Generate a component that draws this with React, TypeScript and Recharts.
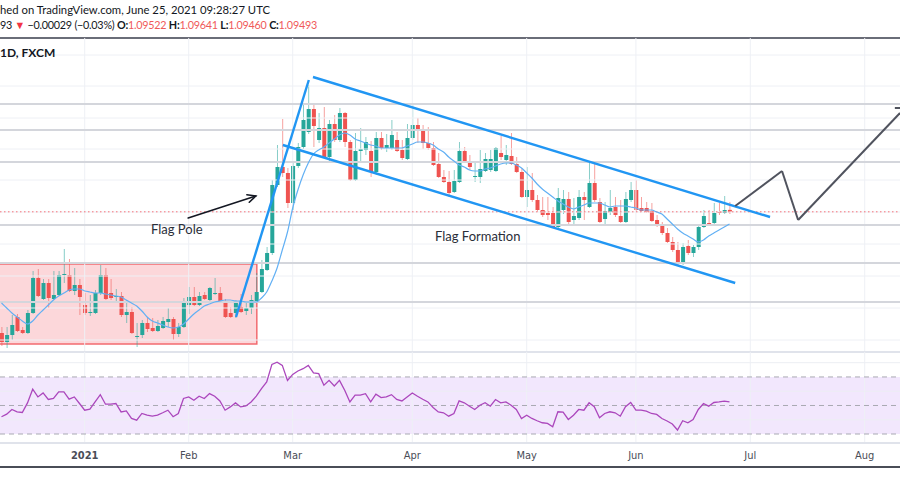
import React from 'react';
import {
  ComposedChart,
  LineChart,
  Bar,
  Line,
  XAxis,
  YAxis,
  ReferenceLine,
  ReferenceArea,
} from 'recharts';

// EUR/CHF daily, Dec 2020 - Jun 25 2021 (index = trading day)
const openP = [
  1.07675, 1.0754, 1.07645, 1.07915, 1.0772, 1.07675, 1.07975, 1.085, 1.08185, 1.08425,
  1.08185, 1.08245, 1.08545, 1.08545, 1.08305, 1.08395, 1.08095, 1.07975, 1.07975, 1.08275,
  1.08545, 1.08275, 1.08215, 1.0823, 1.07945, 1.0799, 1.07615, 1.07645, 1.07825, 1.0775,
  1.07705, 1.0775, 1.0784, 1.07885, 1.0766, 1.07765, 1.08095, 1.08215, 1.08095, 1.08245,
  1.0817, 1.0826, 1.08275, 1.08125, 1.07975, 1.07975, 1.08065, 1.08005, 1.0805, 1.08155,
  1.0829, 1.0862, 1.08875, 1.09895, 1.10165, 1.10075, 1.09625, 1.1018, 1.10465, 1.1069,
  1.11035, 1.1057, 1.1075, 1.10315, 1.1081, 1.1057, 1.10975, 1.1054, 1.0997, 1.10405,
  1.1042, 1.10405, 1.1009, 1.106, 1.1045, 1.1045, 1.1057, 1.1042, 1.10285, 1.106,
  1.10795, 1.10705, 1.10525, 1.1045, 1.1021, 1.10015, 1.0994, 1.0979, 1.0994, 1.10405,
  1.1024, 1.10015, 1.10015, 1.10105, 1.1012, 1.10105, 1.10375, 1.1027, 1.1033, 1.1021,
  1.1009, 1.09715, 1.0982, 1.0967, 1.0952, 1.09475, 1.09475, 1.09265, 1.0952, 1.09685,
  1.0937, 1.094, 1.09715, 1.09565, 1.09925, 1.0964, 1.09385, 1.0949, 1.09565, 1.0943,
  1.0934, 1.0967, 1.0982, 1.0955, 1.0955, 1.09505, 1.0937, 1.0931, 1.09175, 1.0904,
  1.0892, 1.08725, 1.0898, 1.08875, 1.08965, 1.09265, 1.09325, 1.09325, 1.0949, 1.09475,
  1.09522,
];
const highP = [
  1.07765, 1.07765, 1.07945, 1.0796, 1.07765, 1.0802, 1.08605, 1.08635, 1.08485, 1.08485,
  1.08605, 1.08605, 1.08935, 1.08785, 1.0865, 1.08485, 1.08275, 1.08245, 1.0832, 1.08695,
  1.0865, 1.08485, 1.08335, 1.0829, 1.0817, 1.08065, 1.07825, 1.0787, 1.079, 1.079,
  1.0787, 1.07915, 1.0805, 1.07915, 1.07825, 1.082, 1.08365, 1.08365, 1.0829, 1.0829,
  1.08365, 1.085, 1.08365, 1.08185, 1.08065, 1.0817, 1.0826, 1.08125, 1.08245, 1.08575,
  1.0877, 1.08965, 1.0997, 1.10495, 1.10885, 1.1015, 1.10225, 1.10525, 1.11095, 1.11395,
  1.11125, 1.10975, 1.11065, 1.1087, 1.10945, 1.1105, 1.1099, 1.1057, 1.10675, 1.1075,
  1.10615, 1.10555, 1.1069, 1.1069, 1.1066, 1.1087, 1.1069, 1.1057, 1.1081, 1.11095,
  1.109, 1.10795, 1.10765, 1.1054, 1.10375, 1.1012, 1.10105, 1.1012, 1.1054, 1.10465,
  1.10345, 1.10225, 1.1042, 1.10375, 1.1042, 1.10465, 1.1063, 1.10495, 1.10675, 1.10315,
  1.1015, 1.10165, 1.10075, 1.09745, 1.09715, 1.09715, 1.09565, 1.0985, 1.0982, 1.0979,
  1.097, 1.0982, 1.0979, 1.10225, 1.10225, 1.097, 1.0964, 1.0982, 1.09715, 1.0967,
  1.0979, 1.0994, 1.0997, 1.09715, 1.0964, 1.09625, 1.09445, 1.0934, 1.0925, 1.09115,
  1.0904, 1.09025, 1.0907, 1.08995, 1.09295, 1.0952, 1.0952, 1.09625, 1.09625, 1.0973,
  1.09641,
];
const lowP = [
  1.0748, 1.0745, 1.0757, 1.0769, 1.0766, 1.0766, 1.0796, 1.08215, 1.0817, 1.0805,
  1.0817, 1.0823, 1.08425, 1.0829, 1.08245, 1.07945, 1.07945, 1.0793, 1.0796, 1.08245,
  1.0817, 1.0817, 1.08125, 1.07915, 1.07825, 1.0766, 1.07465, 1.076, 1.0769, 1.0769,
  1.0769, 1.07735, 1.07765, 1.0757, 1.07615, 1.0775, 1.0796, 1.0808, 1.0808, 1.0817,
  1.0814, 1.08245, 1.08125, 1.079, 1.079, 1.079, 1.07975, 1.07945, 1.0796, 1.0814,
  1.08275, 1.08605, 1.08845, 1.09865, 1.10015, 1.0955, 1.0952, 1.1015, 1.10435, 1.1066,
  1.10465, 1.10525, 1.103, 1.1024, 1.1054, 1.1054, 1.10465, 1.09955, 1.09955, 1.1024,
  1.10345, 1.10015, 1.10045, 1.1042, 1.1039, 1.1042, 1.1039, 1.1027, 1.1027, 1.1057,
  1.10525, 1.10435, 1.1042, 1.1018, 1.1, 1.09925, 1.09715, 1.09775, 1.09925, 1.10225,
  1.1012, 1.0994, 1.09925, 1.1009, 1.1009, 1.1009, 1.1027, 1.10195, 1.10195, 1.10075,
  1.097, 1.09565, 1.0964, 1.0949, 1.09415, 1.0937, 1.0925, 1.0925, 1.0946, 1.0931,
  1.09295, 1.0937, 1.0937, 1.0955, 1.0964, 1.09325, 1.0931, 1.09445, 1.09415, 1.09325,
  1.09325, 1.0964, 1.0949, 1.0949, 1.09475, 1.0934, 1.09265, 1.09145, 1.09025, 1.0889,
  1.08695, 1.08695, 1.08845, 1.08815, 1.0892, 1.0925, 1.09295, 1.0931, 1.09445, 1.0946,
  1.0946,
];
const closeP = [
  1.0754, 1.07645, 1.07795, 1.07705, 1.07675, 1.07975, 1.085, 1.0823, 1.08425, 1.082,
  1.08245, 1.08545, 1.0856, 1.08305, 1.08395, 1.08215, 1.07975, 1.0799, 1.08275, 1.08545,
  1.08185, 1.082, 1.0823, 1.07945, 1.0799, 1.07675, 1.0763, 1.07825, 1.07735, 1.07705,
  1.0778, 1.07855, 1.07885, 1.0766, 1.07765, 1.08155, 1.08215, 1.08095, 1.0823, 1.08185,
  1.0835, 1.08275, 1.0814, 1.07915, 1.07915, 1.08125, 1.0799, 1.0805, 1.0817, 1.0829,
  1.08635, 1.08875, 1.09895, 1.10165, 1.10075, 1.09625, 1.1018, 1.10465, 1.1087, 1.11035,
  1.1078, 1.1075, 1.10315, 1.1081, 1.1057, 1.10975, 1.1054, 1.0997, 1.10405, 1.10435,
  1.1054, 1.1009, 1.106, 1.1045, 1.10495, 1.10645, 1.10405, 1.103, 1.106, 1.10795,
  1.10705, 1.10525, 1.1045, 1.10195, 1.10015, 1.0994, 1.09775, 1.09955, 1.10405, 1.1024,
  1.10165, 1.1003, 1.10135, 1.10285, 1.10285, 1.1045, 1.10315, 1.10345, 1.1021, 1.1009,
  1.09715, 1.0982, 1.0967, 1.0952, 1.09445, 1.09445, 1.09265, 1.097, 1.09685, 1.0934,
  1.0943, 1.09715, 1.0967, 1.09925, 1.0967, 1.0934, 1.09505, 1.0955, 1.09445, 1.0934,
  1.09685, 1.0982, 1.0952, 1.09505, 1.0949, 1.09355, 1.09295, 1.09175, 1.0904, 1.0892,
  1.08725, 1.08965, 1.08875, 1.08965, 1.09265, 1.0943, 1.0931, 1.09475, 1.09475, 1.0952,
  1.09493,
];
const smaP = [
  1.08125, 1.0805, 1.07975, 1.07915, 1.07855, 1.0781, 1.07855, 1.07945, 1.0802, 1.08095,
  1.0817, 1.0823, 1.08275, 1.0832, 1.08335, 1.08335, 1.08305, 1.0829, 1.08275, 1.08275,
  1.0826, 1.08245, 1.0823, 1.08215, 1.0817, 1.08125, 1.0808, 1.08005, 1.07915, 1.07855,
  1.07825, 1.07795, 1.07765, 1.0775, 1.07765, 1.0781, 1.07885, 1.0796, 1.0802, 1.0808,
  1.0811, 1.0814, 1.08155, 1.0817, 1.0817, 1.08155, 1.08155, 1.0814, 1.0814, 1.0814,
  1.082, 1.0829, 1.08455, 1.0865, 1.0892, 1.0919, 1.0955, 1.0982, 1.10045, 1.10225,
  1.1036, 1.1042, 1.10465, 1.10525, 1.10585, 1.10645, 1.10675, 1.10645, 1.10585, 1.10555,
  1.10525, 1.10495, 1.1048, 1.1045, 1.1045, 1.1045, 1.1045, 1.1045, 1.1048, 1.1051,
  1.1054, 1.1054, 1.10525, 1.10495, 1.10435, 1.1039, 1.10315, 1.10255, 1.10195, 1.10165,
  1.1012, 1.10105, 1.10105, 1.10135, 1.1015, 1.1018, 1.1021, 1.10225, 1.10225, 1.10195,
  1.1015, 1.10075, 1.1, 1.0991, 1.09835, 1.09775, 1.09715, 1.09655, 1.0961, 1.09565,
  1.09535, 1.09565, 1.09595, 1.09625, 1.09625, 1.09625, 1.09595, 1.09565, 1.0958, 1.0958,
  1.0958, 1.09565, 1.0955, 1.0952, 1.0952, 1.0952, 1.0949, 1.0946, 1.09385, 1.0931,
  1.09235, 1.09175, 1.0913, 1.09085, 1.0904, 1.0907, 1.0913, 1.09175, 1.0922, 1.09265,
  1.0931,
];
const rsiV = [
  42.1, 43.9, 47.2, 45.5, 45.1, 51.8, 61.4, 56.0, 58.8, 54.2,
  54.9, 59.5, 59.5, 54.4, 56.0, 51.4, 46.7, 47.4, 52.5, 57.6,
  50.9, 50.9, 51.4, 45.5, 46.2, 40.9, 39.7, 44.4, 43.2, 42.5,
  43.2, 44.9, 46.7, 42.1, 44.4, 54.9, 56.0, 53.7, 56.5, 54.9,
  58.3, 56.5, 53.2, 46.7, 49.0, 51.8, 49.0, 49.7, 52.5, 56.5,
  61.8, 66.5, 78.8, 80.4, 78.1, 67.6, 71.8, 74.2, 75.8, 78.1,
  72.8, 72.3, 64.2, 67.6, 63.7, 67.6, 60.7, 52.5, 57.2, 57.2,
  58.3, 52.5, 57.9, 55.5, 56.0, 57.6, 54.2, 53.2, 56.0, 58.8,
  56.5, 54.4, 52.5, 48.6, 45.5, 44.9, 42.5, 44.4, 53.2, 51.9,
  49.5, 47.2, 50.2, 51.9, 49.5, 54.2, 51.9, 52.5, 50.2, 47.2,
  40.9, 43.2, 40.9, 39.3, 37.9, 37.4, 35.1, 45.6, 45.3, 40.2,
  43.2, 47.2, 46.7, 51.9, 49.1, 41.4, 44.4, 45.6, 44.9, 42.5,
  49.1, 52.1, 46.7, 46.7, 46.0, 44.4, 43.7, 40.9, 39.1, 37.0,
  32.8, 39.3, 37.9, 40.2, 47.2, 51.4, 49.5, 52.1, 52.5, 53.0,
  52.5,
];

const tickIdx = [16, 36, 56, 79, 101, 122, 144, 166];
const tickLabels = ['2021', 'Feb', 'Mar', 'Apr', 'May', 'Jun', 'Jul', 'Aug'];

const gridPrices = [1.11845, 1.1138, 1.109, 1.10435, 1.0997, 1.0949, 1.0901, 1.0853, 1.0805, 1.0757];
const levelPrices = [1.1111, 1.1072, 1.1024, 1.09295, 1.08725, 1.0814];
const lastClose = 1.09493;
const rsiGrid = [40, 60, 80];
const rsiLevels = [70, 50, 30];

// drawings, as [bar index, price]
const poleLine = [[45.1, 1.07915], [59.1, 1.1147]];
const channelTop = [[59.9, 1.11515], [147.8, 1.09415]];
const channelBottom = [[54.1, 1.10495], [141.1, 1.08425]];
const arrowLine = [[35.9, 1.094], [48.9, 1.0973]];
const projection = [[141.1, 1.0958], [150.1, 1.10105], [153.2, 1.0937], [172.79, 1.10975]];
const projTick = [[171.8, 1.1105], [173, 1.1105]];
const baseBox = { from: -2, to: 49.1, low: 1.0751, high: 1.0871 };

const X_DOMAIN: [number, number] = [-0.2885, 172.79];

const rows = openP.map((o, i) => ({
  i,
  open: o,
  high: highP[i],
  low: lowP[i],
  close: closeP[i],
  ma: smaP[i],
}));
const rsiRows = rsiV.map((v, i) => ({ i, rsi: v }));

const UP = '#26a69a';
const DOWN = '#ef5350';

const Candle = (props: any) => {
  const { x, y, width, height, payload } = props;
  if (!payload || payload.open == null) return null;
  const { open, close, high, low } = payload;
  const color = close >= open ? UP : DOWN;
  const ratio = high === low ? 0 : height / (high - low);
  const cx = x + width / 2;
  const top = y + (high - Math.max(open, close)) * ratio;
  const h = Math.max(1, Math.abs(open - close) * ratio);
  return (
    <g>
      <line x1={cx} x2={cx} y1={y} y2={y + height} stroke={color} strokeOpacity={0.55} strokeWidth={1} />
      <rect x={x} y={top} width={width} height={h} fill={color} />
    </g>
  );
};

const ArrowShape = (p: any) => {
  const { x1, y1, x2, y2 } = p;
  const a = Math.atan2(y2 - y1, x2 - x1);
  const len = 9;
  const spread = 0.45;
  const ax = x2 - len * Math.cos(a - spread);
  const ay = y2 - len * Math.sin(a - spread);
  const bx = x2 - len * Math.cos(a + spread);
  const by = y2 - len * Math.sin(a + spread);
  return (
    <g stroke="#131722" strokeWidth={1.6} fill="none" strokeLinecap="round">
      <line x1={x1} y1={y1} x2={x2} y2={y2} />
      <polyline points={`${ax},${ay} ${x2},${y2} ${bx},${by}`} />
    </g>
  );
};

const MonthTick = (p: any) => {
  const { x, y, payload } = p;
  const label = tickLabels[tickIdx.indexOf(payload.value)];
  return (
    <text
      x={x}
      y={y}
      dy="0.71em"
      textAnchor="middle"
      fontSize={11}
      fill="#4a4d57"
      fontWeight={label === '2021' ? 700 : 400}
      fontFamily="'DejaVu Sans Condensed', 'DejaVu Sans', sans-serif"
    >
      {label}
    </text>
  );
};

const seg = (pts: number[][]) => pts.map(([x, y]) => ({ x, y }));

export default function App() {
  const red = '#f05a5a';
  return (
    <div
      style={{
        position: 'absolute',
        left: 0,
        top: 0,
        width: 900,
        height: 500,
        background: '#fff',
        overflow: 'hidden',
        fontFamily: 'Lato, sans-serif',
      }}
    >
      <div style={{ position: 'absolute', left: 0, top: 3, fontSize: 11.3, color: '#131722', whiteSpace: 'nowrap' }}>
        hed on TradingView.com, June 25, 2021 09:28:27 UTC
      </div>
      <div
        style={{
          position: 'absolute',
          left: 0,
          top: 18,
          fontSize: 10.8,
          letterSpacing: -0.25,
          color: '#131722',
          whiteSpace: 'nowrap',
        }}
      >
        93 <span style={{ color: '#f23645' }}>▼</span> −0.00029 (−0.03%) <b>O:</b>
        <span style={{ color: red }}>1.09522</span> <b>H:</b>
        <span style={{ color: red }}>1.09641</span> <b>L:</b>
        <span style={{ color: red }}>1.09460</span> <b>C:</b>
        <span style={{ color: red }}>1.09493</span>
      </div>
      <div style={{ position: 'absolute', left: 0, top: 37, width: 900, height: 2, background: '#6a6d78' }} />

      <div style={{ position: 'absolute', left: 0, top: 38 }}>
        <ComposedChart width={900} height={314} data={rows} margin={{ top: 0, right: 0, bottom: 0, left: 0 }}>
          <XAxis dataKey="i" type="number" domain={X_DOMAIN} allowDataOverflow hide />
          <YAxis type="number" domain={[1.0739, 1.121]} allowDataOverflow hide />
          {tickIdx.map((t) => (
            <ReferenceLine key={'v' + t} x={t} stroke="#eef0f5" strokeWidth={1} />
          ))}
          {gridPrices.map((p) => (
            <ReferenceLine key={'g' + p} y={p} stroke="#eef0f5" strokeWidth={1} />
          ))}
          {levelPrices.map((p) => (
            <ReferenceLine key={'l' + p} y={p} stroke="#d4d6dc" strokeWidth={2} />
          ))}
          <ReferenceArea
            x1={baseBox.from}
            x2={baseBox.to}
            y1={baseBox.low}
            y2={baseBox.high}
            fill="#f23645"
            fillOpacity={0.2}
            stroke="#f26b70"
            strokeWidth={1.5}
            ifOverflow="hidden"
          />
          <ReferenceLine y={lastClose} stroke="#f5737a" strokeDasharray="1.5 2.5" strokeWidth={1} />
          <Bar
            dataKey={(d: any) => [d.low, d.high]}
            barSize={4}
            shape={(p: any) => <Candle {...p} />}
            isAnimationActive={false}
          />
          <Line
            dataKey="ma"
            type="monotone"
            stroke="#62b0f4"
            strokeWidth={1.2}
            dot={false}
            isAnimationActive={false}
          />
          <ReferenceLine segment={seg(poleLine)} stroke="#2196f3" strokeWidth={2.4} ifOverflow="visible" />
          <ReferenceLine segment={seg(channelTop)} stroke="#2196f3" strokeWidth={2.4} ifOverflow="visible" />
          <ReferenceLine segment={seg(channelBottom)} stroke="#2196f3" strokeWidth={2.4} ifOverflow="visible" />
          <ReferenceLine segment={seg(arrowLine)} shape={(p: any) => <ArrowShape {...p} />} ifOverflow="visible" />
          {projection.slice(1).map((pt, k) => (
            <ReferenceLine
              key={'p' + k}
              segment={seg([projection[k], pt])}
              stroke="#50535e"
              strokeWidth={2}
              ifOverflow="visible"
            />
          ))}
          <ReferenceLine segment={seg(projTick)} stroke="#50535e" strokeWidth={2} ifOverflow="visible" />
        </ComposedChart>
      </div>

      <div style={{ position: 'absolute', left: 0, top: 45, fontSize: 12, fontWeight: 700, color: '#131722' }}>
        1D, FXCM
      </div>
      <div style={{ position: 'absolute', left: 151, top: 221, fontSize: 13, color: '#2a2e39' }}>Flag Pole</div>
      <div style={{ position: 'absolute', left: 435, top: 228, fontSize: 13, color: '#2a2e39' }}>Flag Formation</div>

      <div style={{ position: 'absolute', left: 0, top: 351, width: 900, height: 2, background: '#e0e3eb' }} />
      <div style={{ position: 'absolute', left: 0, top: 352 }}>
        <LineChart width={900} height={115} data={rsiRows} margin={{ top: 0, right: 0, bottom: 0, left: 0 }}>
          <XAxis
            dataKey="i"
            type="number"
            domain={X_DOMAIN}
            allowDataOverflow
            ticks={tickIdx}
            interval={0}
            tick={<MonthTick />}
            tickLine={false}
            axisLine={{ stroke: '#e0e3eb', strokeWidth: 2 }}
            height={24}
          />
          <YAxis type="number" domain={[23.7, 87.5]} allowDataOverflow hide />
          {tickIdx.map((t) => (
            <ReferenceLine key={'rv' + t} x={t} stroke="#eef0f5" strokeWidth={1} />
          ))}
          {rsiGrid.map((v) => (
            <ReferenceLine key={'rg' + v} y={v} stroke="#eceef3" strokeWidth={1} />
          ))}
          <ReferenceArea y1={30} y2={70} fill="#b97cf2" fillOpacity={0.18} stroke="none" ifOverflow="visible" />
          {rsiLevels.map((v) => (
            <ReferenceLine key={'rl' + v} y={v} stroke="#a9a9b3" strokeDasharray="5 4" strokeWidth={1} />
          ))}
          <Line
            dataKey="rsi"
            type="linear"
            stroke="#ab47bc"
            strokeWidth={1.3}
            dot={false}
            isAnimationActive={false}
          />
        </LineChart>
      </div>
      <div style={{ position: 'absolute', left: 0, top: 466, width: 900, height: 2, background: '#4a4d57' }} />
    </div>
  );
}
